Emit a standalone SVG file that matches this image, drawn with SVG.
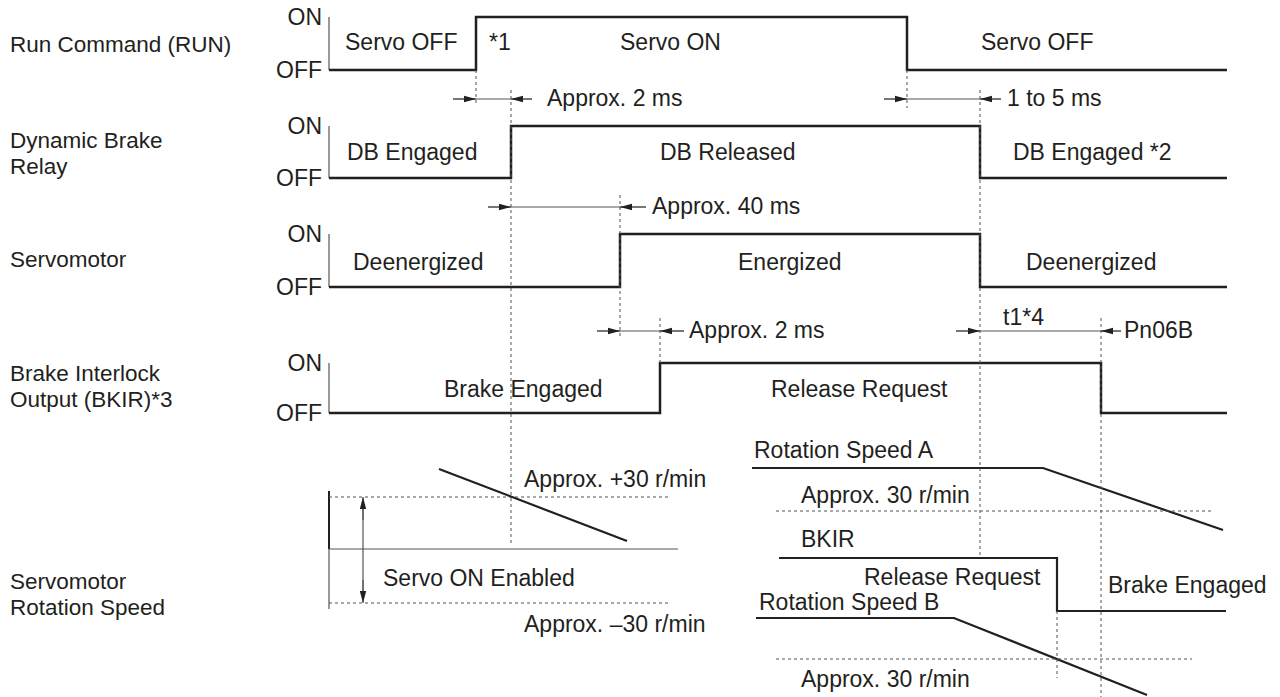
<svg xmlns="http://www.w3.org/2000/svg" width="1280" height="697" viewBox="0 0 1280 697">
<defs>
<style>
text{font-family:"Liberation Sans",Arial,sans-serif;font-size:23px;fill:#231f20}
.lb{font-size:22.5px}
.r{text-anchor:end}
.sig{fill:none;stroke:#231f20;stroke-width:2.5}
.ax{fill:none;stroke:#555;stroke-width:1.2}
.dot{fill:none;stroke:#555;stroke-width:1;stroke-dasharray:3,3}
.dim{fill:none;stroke:#555;stroke-width:1.2}
.arr{fill:none;stroke:#555;stroke-width:1.2;marker-end:url(#ah)}
.spd{fill:none;stroke:#231f20;stroke-width:2.2}
</style>
<marker id="ah" viewBox="0 0 12 8" refX="12" refY="4" markerWidth="12" markerHeight="8" markerUnits="userSpaceOnUse" orient="auto">
<path d="M0,0.8 L12,4 L0,7.2 z" fill="#231f20"/>
</marker>
</defs>
<rect width="1280" height="697" fill="#fff"/>

<g id="labels">
<text class="lb" x="10" y="52">Run Command (RUN)</text>
<text class="lb" x="10" y="148">Dynamic Brake</text>
<text class="lb" x="10" y="174">Relay</text>
<text class="lb" x="10" y="267">Servomotor</text>
<text class="lb" x="10" y="381">Brake Interlock</text>
<text class="lb" x="10" y="407">Output (BKIR)*3</text>
<text class="lb" x="10" y="589">Servomotor</text>
<text class="lb" x="10" y="615">Rotation Speed</text>
</g>

<g id="row-run">
<text class="r" x="322" y="25">ON</text>
<text class="r" x="322" y="78">OFF</text>
<path class="ax" d="M329,17 V70"/>
<path class="sig" d="M329,70 H476 V17 H907 V70 H1227"/>
<text x="345" y="50">Servo OFF</text>
<text x="489" y="50">*1</text>
<text x="620" y="50">Servo ON</text>
<text x="981" y="50">Servo OFF</text>
</g>

<g id="row-db">
<text class="r" x="322" y="134">ON</text>
<text class="r" x="322" y="186">OFF</text>
<path class="ax" d="M329,126 V178"/>
<path class="sig" d="M329,178 H511 V126 H980 V178 H1227"/>
<text x="347" y="160">DB Engaged</text>
<text x="660" y="160">DB Released</text>
<text x="1013" y="160">DB Engaged *2</text>
</g>

<g id="row-motor">
<text class="r" x="322" y="242">ON</text>
<text class="r" x="322" y="295">OFF</text>
<path class="ax" d="M329,234 V287"/>
<path class="sig" d="M329,287 H620 V234 H980 V287 H1227"/>
<text x="353" y="270">Deenergized</text>
<text x="738" y="270">Energized</text>
<text x="1026" y="270">Deenergized</text>
</g>

<g id="row-bkir">
<text class="r" x="322" y="371">ON</text>
<text class="r" x="322" y="421">OFF</text>
<path class="ax" d="M329,363 V413"/>
<path class="sig" d="M329,413 H660 V363 H1101 V413 H1227"/>
<text x="444" y="397">Brake Engaged</text>
<text x="771" y="397">Release Request</text>
</g>

<g id="speed-left">
<path class="ax" d="M329,491 V609"/>
<path fill="none" stroke="#231f20" stroke-width="2" d="M329,491 V549"/>
<path class="ax" d="M329,549 H678"/>
<path class="dot" d="M329,497 H668 M329,603 H668"/>
<path class="spd" d="M439,469 L627,541"/>
<text x="524" y="487">Approx. +30 r/min</text>
<text x="383" y="586">Servo ON Enabled</text>
<text x="524" y="632">Approx. –30 r/min</text>
</g>

<g id="speed-right">
<text x="754" y="458">Rotation Speed A</text>
<path class="spd" d="M752,468 H1043 L1223,530"/>
<path class="dot" d="M776,511 H1211"/>
<text x="801" y="503">Approx. 30 r/min</text>
<text x="801" y="547">BKIR</text>
<path class="spd" d="M779,558 H1057 V611 H1226"/>
<text x="864" y="585">Release Request</text>
<text x="1108" y="593">Brake Engaged</text>
<text x="759" y="610">Rotation Speed B</text>
<path class="spd" d="M756,618 H954 L1147,695"/>
<path class="dot" d="M776,659 H1192"/>
<text x="801" y="687">Approx. 30 r/min</text>
</g>

<g id="connectors">
<path class="dot" d="M476,70 V106 M511,90 V545 M907,70 V108 M980,90 V558 M620,195 V338 M660,318 V363 M1101,318 V697 M1057,611 V678"/>
<path class="dim" d="M453,99 H532"/>
<path class="arr" d="M453,99 H476"/>
<path class="arr" d="M532,99 H511"/>
<text x="547" y="106">Approx. 2 ms</text>
<path class="dim" d="M884,99 H1001"/>
<path class="arr" d="M884,99 H907"/>
<path class="arr" d="M1001,99 H980"/>
<text x="1007" y="106">1 to 5 ms</text>
<path class="dim" d="M488,207 H646"/>
<path class="arr" d="M488,207 H511"/>
<path class="arr" d="M646,207 H620"/>
<text x="652" y="214">Approx. 40 ms</text>
<path class="dim" d="M597,331 H684"/>
<path class="arr" d="M597,331 H620"/>
<path class="arr" d="M684,331 H660"/>
<text x="689" y="338">Approx. 2 ms</text>
<path class="dim" d="M956,331 H1121"/>
<path class="arr" d="M956,331 H980"/>
<path class="arr" d="M1121,331 H1101"/>
<text x="1003" y="325">t1*4</text>
<text x="1124" y="338">Pn06B</text>
<path class="dim" d="M363,509 V591"/>
<path class="arr" d="M363,520 V497"/>
<path class="arr" d="M363,580 V603"/>
</g>
</svg>
